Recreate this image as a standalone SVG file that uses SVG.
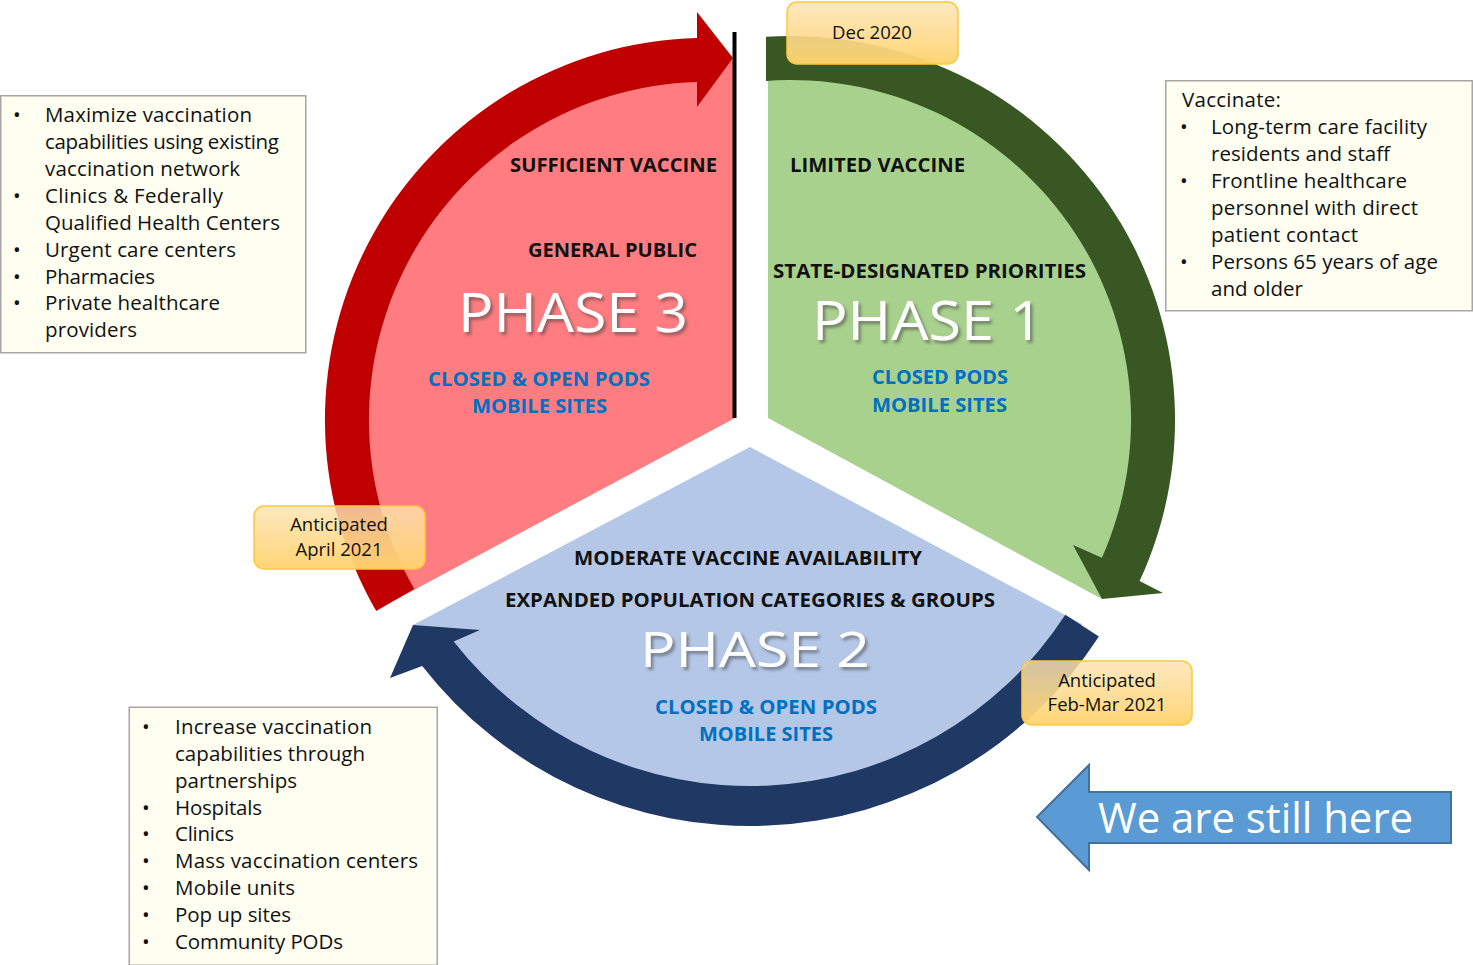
<svg xmlns="http://www.w3.org/2000/svg" width="1473" height="965" viewBox="0 0 1473 965">
<defs>
  <linearGradient id="dateGrad" x1="0" y1="0" x2="0" y2="1">
    <stop offset="0" stop-color="#FDE3B0" stop-opacity="0.82"/>
    <stop offset="1" stop-color="#FFD36E" stop-opacity="0.97"/>
  </linearGradient>
  <filter id="shadow" x="-10%" y="-20%" width="130%" height="150%">
    <feDropShadow dx="2.5" dy="3" stdDeviation="1.5" flood-color="#444" flood-opacity="0.55"/>
  </filter>
</defs>
<style>
  .body { font-family: "Open Sans", "Liberation Sans", sans-serif; font-size: 20.5px; fill: #111; }
  .lbl { font-family: "Open Sans", "Liberation Sans", sans-serif; font-size: 19.5px; font-weight: bold; fill: #111; }
  .blue { font-family: "Open Sans", "Liberation Sans", sans-serif; font-size: 19.5px; font-weight: bold; fill: #0070C0; }
  .phase { font-family: "Open Sans", "Liberation Sans", sans-serif; font-size: 54px; fill: #FFFFFF; filter: url(#shadow); }
  .date { font-family: "Open Sans", "Liberation Sans", sans-serif; font-size: 18.5px; fill: #111; text-anchor: middle; }
  .datebox { fill: url(#dateGrad); stroke: #FFC83D; stroke-width: 1.5; }
  .tbox { fill: #FEFEF1; stroke: #A6A6A6; stroke-width: 1.5; }
</style>
<rect width="1473" height="965" fill="#FFFFFF"/>

<!-- sector fills -->
<g id="phase3-sector">
  <path d="M 735 418 L 735 60 L 697 60 A 360 360 0 0 0 395.2 600 Z" fill="#FF7C80"/>
</g>
<g id="phase1-sector">
  <path d="M 768 418 L 768 58.7 A 362 362 0 0 1 1120.9 569 L 1102 599 Z" fill="#A9D18E"/>
</g>
<g id="phase2-sector">
  <path d="M 750 447 L 1082 624 A 398 398 0 0 1 413 625 Z" fill="#B4C7E7"/>
</g>

<!-- circular arrows -->
<g id="connectors">
  <path id="arrow-red" d="M 376.2 611 A 382 382 0 0 1 697 38 L 697 12 L 733 58 L 697 107 L 697 82 A 338 338 0 0 0 414.3 589 Z" fill="#C00000"/>
  <path id="arrow-green" d="M 766 36.8 A 384 384 0 0 1 1139.6 581.1 L 1163 593 L 1102 599 L 1073 545 L 1101.9 557.7 A 340 340 0 0 0 766 80.9 Z" fill="#385723"/>
  <path id="arrow-navy" d="M 1098.9 636.6 A 416 416 0 0 1 422.2 666.1 L 390 678 L 413 625 L 480 630 L 453.7 641.5 A 376 376 0 0 0 1065.3 614.8 Z" fill="#203864"/>
  <line x1="734.5" y1="32" x2="734.5" y2="418" stroke="#000000" stroke-width="4"/>
</g>

<!-- Phase 3 -->
<g id="phase3">
  <text class="lbl" x="510" y="172" textLength="207" lengthAdjust="spacingAndGlyphs">SUFFICIENT VACCINE</text>
  <text class="lbl" x="528" y="257" textLength="169" lengthAdjust="spacingAndGlyphs">GENERAL PUBLIC</text>
  <text class="phase" x="458" y="332" textLength="230" lengthAdjust="spacingAndGlyphs">PHASE 3</text>
  <text class="blue" x="428" y="386" textLength="222" lengthAdjust="spacingAndGlyphs">CLOSED &amp; OPEN PODS</text>
  <text class="blue" x="472" y="413" textLength="135" lengthAdjust="spacingAndGlyphs">MOBILE SITES</text>
</g>

<!-- Phase 1 -->
<g id="phase1">
  <text class="lbl" x="790" y="172" textLength="175" lengthAdjust="spacingAndGlyphs">LIMITED VACCINE</text>
  <text class="lbl" x="773" y="278" textLength="313" lengthAdjust="spacingAndGlyphs">STATE-DESIGNATED PRIORITIES</text>
  <text class="phase" x="812" y="340" textLength="231" lengthAdjust="spacingAndGlyphs">PHASE 1</text>
  <text class="blue" x="872" y="384" textLength="136" lengthAdjust="spacingAndGlyphs">CLOSED PODS</text>
  <text class="blue" x="872" y="412" textLength="135" lengthAdjust="spacingAndGlyphs">MOBILE SITES</text>
</g>

<!-- Phase 2 -->
<g id="phase2">
  <text class="lbl" x="574" y="565" textLength="348" lengthAdjust="spacingAndGlyphs">MODERATE VACCINE AVAILABILITY</text>
  <text class="lbl" x="505" y="607" textLength="490" lengthAdjust="spacingAndGlyphs">EXPANDED POPULATION CATEGORIES &amp; GROUPS</text>
  <text class="phase" x="640" y="667" font-size="50" style="font-size:50px" textLength="230" lengthAdjust="spacingAndGlyphs">PHASE 2</text>
  <text class="blue" x="655" y="714" textLength="222" lengthAdjust="spacingAndGlyphs">CLOSED &amp; OPEN PODS</text>
  <text class="blue" x="699" y="741" textLength="134" lengthAdjust="spacingAndGlyphs">MOBILE SITES</text>
</g>

<!-- date boxes -->
<g id="date-dec2020">
  <rect class="datebox" x="787" y="2" width="171" height="62" rx="10"/>
  <text class="date" x="872" y="39">Dec 2020</text>
</g>
<g id="date-april2021">
  <rect class="datebox" x="254" y="506" width="171" height="63" rx="10"/>
  <text class="date" x="339" y="531">Anticipated</text>
  <text class="date" x="339" y="556">April 2021</text>
</g>
<g id="date-febmar2021">
  <rect class="datebox" x="1022" y="661" width="170" height="64" rx="10"/>
  <text class="date" x="1107" y="687">Anticipated</text>
  <text class="date" x="1107" y="711">Feb-Mar 2021</text>
</g>

<!-- text boxes -->
<g id="box-phase3">
  <rect class="tbox" x="0.75" y="95.75" width="305" height="257"/>
  <g class="body">
    <text x="13" y="122">•</text>
    <text x="45" y="122" textLength="207" lengthAdjust="spacing">Maximize vaccination</text>
    <text x="45" y="149" textLength="234" lengthAdjust="spacing">capabilities using existing</text>
    <text x="45" y="176" textLength="195" lengthAdjust="spacing">vaccination network</text>
    <text x="13" y="203">•</text>
    <text x="45" y="203" textLength="178" lengthAdjust="spacing">Clinics &amp; Federally</text>
    <text x="45" y="230" textLength="235" lengthAdjust="spacing">Qualified Health Centers</text>
    <text x="13" y="257">•</text>
    <text x="45" y="257" textLength="191" lengthAdjust="spacing">Urgent care centers</text>
    <text x="13" y="284">•</text>
    <text x="45" y="284" textLength="110" lengthAdjust="spacing">Pharmacies</text>
    <text x="13" y="310">•</text>
    <text x="45" y="310" textLength="175" lengthAdjust="spacing">Private healthcare</text>
    <text x="45" y="337" textLength="92" lengthAdjust="spacing">providers</text>
  </g>
</g>

<g id="box-phase1">
  <rect class="tbox" x="1165.75" y="80.75" width="306.5" height="230"/>
  <g class="body">
    <text x="1182" y="107" textLength="99" lengthAdjust="spacing">Vaccinate:</text>
    <text x="1180" y="134">•</text>
    <text x="1211" y="134" textLength="216" lengthAdjust="spacing">Long-term care facility</text>
    <text x="1211" y="161" textLength="179" lengthAdjust="spacing">residents and staff</text>
    <text x="1180" y="188">•</text>
    <text x="1211" y="188" textLength="196" lengthAdjust="spacing">Frontline healthcare</text>
    <text x="1211" y="215" textLength="207" lengthAdjust="spacing">personnel with direct</text>
    <text x="1211" y="242" textLength="147" lengthAdjust="spacing">patient contact</text>
    <text x="1180" y="269">•</text>
    <text x="1211" y="269" textLength="227" lengthAdjust="spacing">Persons 65 years of age</text>
    <text x="1211" y="296" textLength="92" lengthAdjust="spacing">and older</text>
  </g>
</g>

<g id="box-phase2">
  <rect class="tbox" x="129.25" y="707.25" width="308" height="258"/>
  <g class="body">
    <text x="142" y="734">•</text>
    <text x="175" y="734" textLength="197" lengthAdjust="spacing">Increase vaccination</text>
    <text x="175" y="761" textLength="190" lengthAdjust="spacing">capabilities through</text>
    <text x="175" y="788" textLength="122" lengthAdjust="spacing">partnerships</text>
    <text x="142" y="815">•</text>
    <text x="175" y="815" textLength="87" lengthAdjust="spacing">Hospitals</text>
    <text x="142" y="841">•</text>
    <text x="175" y="841" textLength="59" lengthAdjust="spacing">Clinics</text>
    <text x="142" y="868">•</text>
    <text x="175" y="868" textLength="243" lengthAdjust="spacing">Mass vaccination centers</text>
    <text x="142" y="895">•</text>
    <text x="175" y="895" textLength="120" lengthAdjust="spacing">Mobile units</text>
    <text x="142" y="922">•</text>
    <text x="175" y="922" textLength="116" lengthAdjust="spacing">Pop up sites</text>
    <text x="142" y="949">•</text>
    <text x="175" y="949" textLength="168" lengthAdjust="spacing">Community PODs</text>
  </g>
</g>

<!-- We are still here -->
<g id="still-here">
  <path d="M 1037 817 L 1089 765 L 1089 792 L 1451 792 L 1451 843 L 1089 843 L 1089 870 Z" fill="#5B9BD5" stroke="#41719C" stroke-width="2" stroke-linejoin="miter"/>
  <text x="1098" y="833" font-family="Open Sans, Liberation Sans, sans-serif" font-size="42" fill="#FFFFFF" textLength="315" lengthAdjust="spacingAndGlyphs">We are still here</text>
</g>
</svg>
